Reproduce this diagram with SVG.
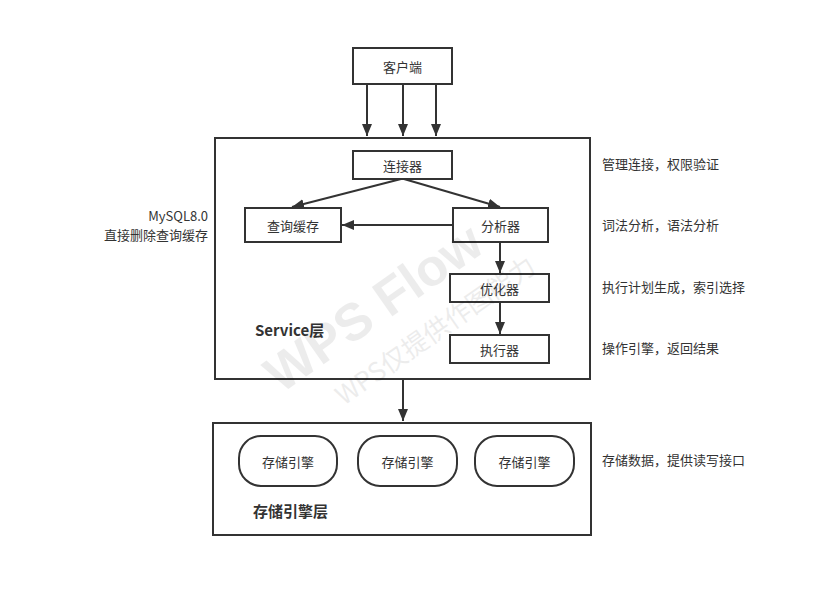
<svg xmlns="http://www.w3.org/2000/svg" width="824" height="598" viewBox="0 0 824 598">
<style>
.box{fill:#fff;stroke:#333;stroke-width:2}
.edge{stroke:#333;stroke-width:2;fill:none}
text{font-family:"Noto Sans CJK SC","Liberation Sans",sans-serif;font-size:13px;fill:#333}
.c{text-anchor:middle;dominant-baseline:central}
.b{font-weight:bold;font-size:15px}
.wm{fill:#000;opacity:0.07;text-anchor:middle}
</style>
<defs>
<marker id="ah" viewBox="0 0 12 10" refX="12" refY="5" markerWidth="6" markerHeight="5" orient="auto-start-reverse" markerUnits="strokeWidth">
<path d="M0,0 L12,5 L0,10 z" fill="#333"/>
</marker>
</defs>
<rect width="824" height="598" fill="#fff"/>
<g id="service-layer"><rect class="box" x="215" y="138" width="375" height="241"/><text class="b" x="255" y="336">Service层</text></g>
<g id="storage-layer"><rect class="box" x="213" y="423" width="378" height="112"/><text class="b" x="253" y="517">存储引擎层</text></g>
<g id="client"><rect class="box" x="353" y="48" width="99" height="36"/><text class="c" x="402.5" y="66">客户端</text></g>
<g id="connector"><rect class="box" x="353" y="151" width="99" height="28"/><text class="c" x="402.5" y="165">连接器</text></g>
<g id="cache"><rect class="box" x="245" y="208" width="96" height="34"/><text class="c" x="293" y="225">查询缓存</text></g>
<g id="parser"><rect class="box" x="453" y="208" width="95" height="34"/><text class="c" x="500.5" y="225">分析器</text></g>
<g id="optimizer"><rect class="box" x="450" y="274" width="99" height="28"/><text class="c" x="499.5" y="288">优化器</text></g>
<g id="executor"><rect class="box" x="450" y="335" width="99" height="28"/><text class="c" x="499.5" y="349">执行器</text></g>
<g id="engine1"><rect class="box" x="239" y="436" width="98" height="50" rx="22"/><text class="c" x="288" y="461">存储引擎</text></g>
<g id="engine2"><rect class="box" x="358" y="436" width="99" height="50" rx="22"/><text class="c" x="407.5" y="461">存储引擎</text></g>
<g id="engine3"><rect class="box" x="475" y="436" width="99" height="50" rx="22"/><text class="c" x="524.5" y="461">存储引擎</text></g>
<g id="notes">
<text x="208" y="221" text-anchor="end">MySQL8.0</text>
<text x="208" y="240" text-anchor="end">直接删除查询缓存</text>
<text x="602" y="169">管理连接，权限验证</text>
<text x="602" y="230">词法分析，语法分析</text>
<text x="602" y="292">执行计划生成，索引选择</text>
<text x="602" y="353">操作引擎，返回结果</text>
<text x="602" y="465">存储数据，提供读写接口</text>
</g>
<g id="connectors">
<line class="edge" x1="367" y1="84" x2="367" y2="136" marker-end="url(#ah)"/>
<line class="edge" x1="403" y1="84" x2="403" y2="136" marker-end="url(#ah)"/>
<line class="edge" x1="436" y1="84" x2="436" y2="136" marker-end="url(#ah)"/>
<line class="edge" x1="401" y1="179" x2="292" y2="207" marker-end="url(#ah)"/>
<line class="edge" x1="404" y1="179" x2="500" y2="207" marker-end="url(#ah)"/>
<line class="edge" x1="453" y1="225" x2="342" y2="225" marker-end="url(#ah)"/>
<line class="edge" x1="500" y1="242" x2="500" y2="273" marker-end="url(#ah)"/>
<line class="edge" x1="500" y1="302" x2="500" y2="334" marker-end="url(#ah)"/>
<line class="edge" x1="403" y1="379" x2="403" y2="421" marker-end="url(#ah)"/>
</g>
<g id="watermark">
<text class="wm" x="375" y="325" transform="rotate(-35 375 310)" style="font-size:52px;font-weight:bold;font-family:'Liberation Sans',sans-serif">WPS Flow</text>
<text class="wm" x="435" y="340" transform="rotate(-35 435 330)" style="font-size:26px">WPS仅提供作图能力</text>
</g>
</svg>
